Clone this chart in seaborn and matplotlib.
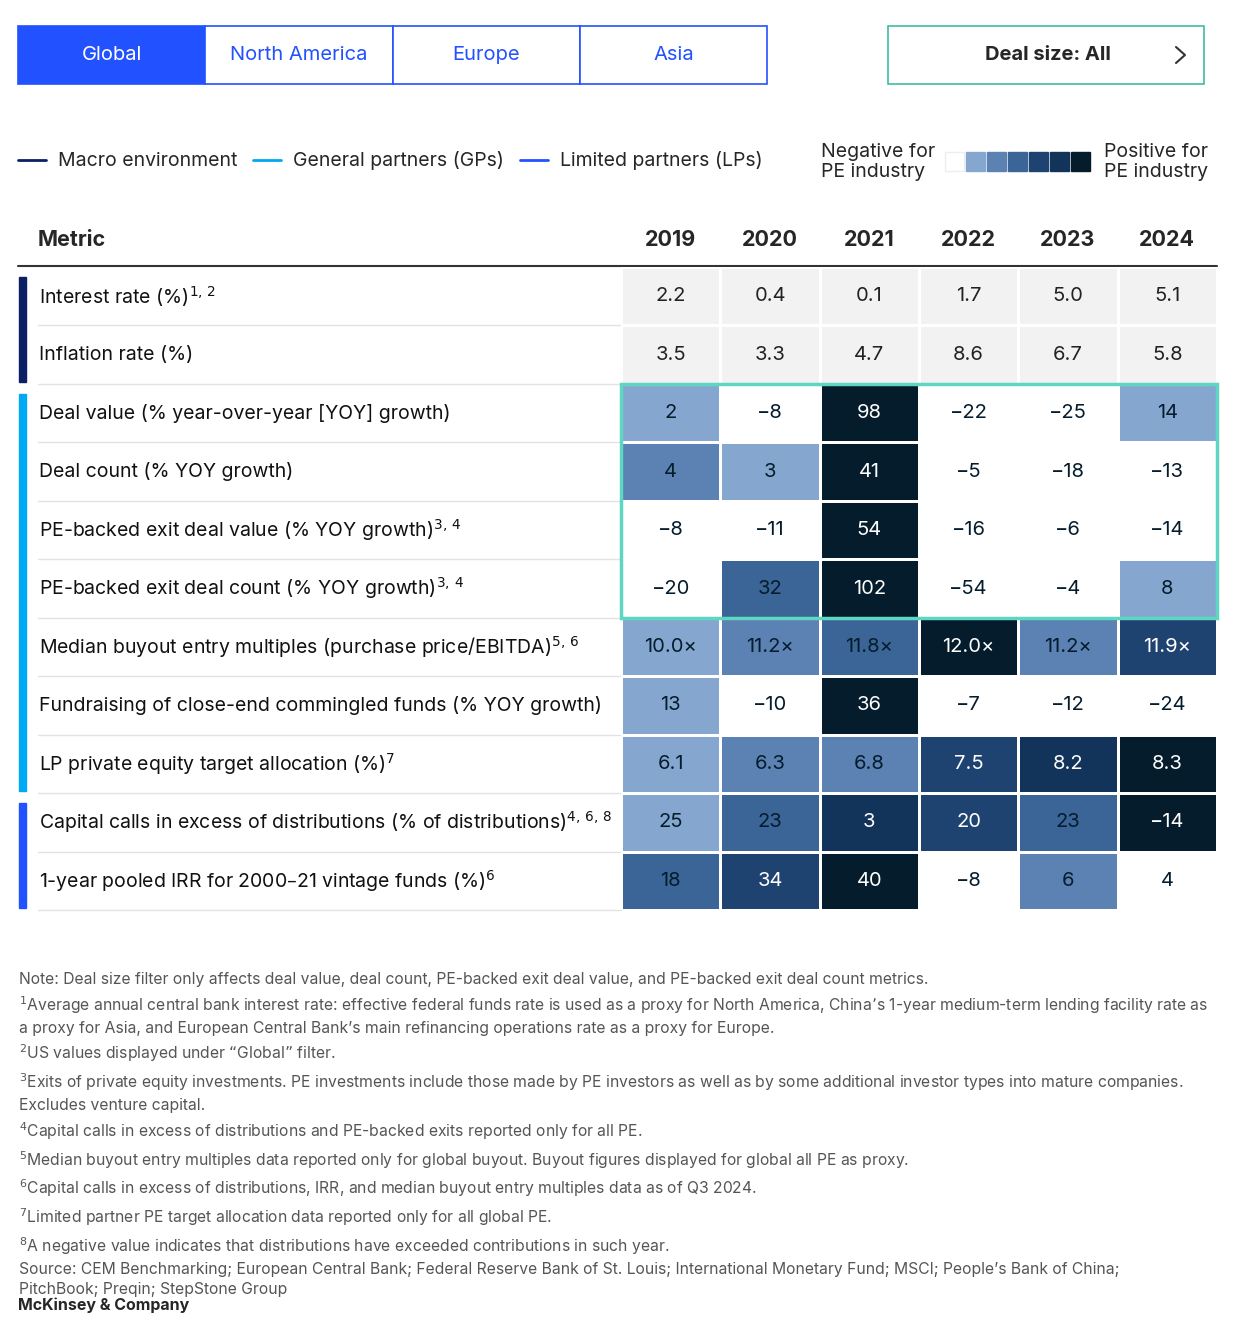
import numpy as np
import matplotlib.pyplot as plt
import seaborn as sns
from matplotlib.colors import ListedColormap
from matplotlib.patches import Rectangle

sns.set_theme(style="white")
plt.rcParams['font.family'] = ['Inter', 'DejaVu Sans']

years = ['2019', '2020', '2021', '2022', '2023', '2024']
metrics = ['Interest rate (%)$^{1,\\,2}$', 'Inflation rate (%)',
           'Deal value (% year-over-year [YOY] growth)', 'Deal count (% YOY growth)',
           'PE-backed exit deal value (% YOY growth)$^{3,\\,4}$',
           'PE-backed exit deal count (% YOY growth)$^{3,\\,4}$',
           'Median buyout entry multiples (purchase price/EBITDA)$^{5,\\,6}$',
           'Fundraising of close-end commingled funds (% YOY growth)',
           'LP private equity target allocation (%)$^{7}$',
           'Capital calls in excess of distributions (% of distributions)$^{4,\\,6,\\,8}$',
           '1-year pooled IRR for 2000\u201321 vintage funds (%)$^{6}$']
values = [['2.2', '0.4', '0.1', '1.7', '5.0', '5.1'],
          ['3.5', '3.3', '4.7', '8.6', '6.7', '5.8'],
          ['2', '\u22128', '98', '\u221222', '\u221225', '14'],
          ['4', '3', '41', '\u22125', '\u221218', '\u221213'],
          ['\u22128', '\u221211', '54', '\u221216', '\u22126', '\u221214'],
          ['\u221220', '32', '102', '\u221254', '\u22124', '8'],
          ['10.0\u00d7', '11.2\u00d7', '11.8\u00d7', '12.0\u00d7', '11.2\u00d7', '11.9\u00d7'],
          ['13', '\u221210', '36', '\u22127', '\u221212', '\u221224'],
          ['6.1', '6.3', '6.8', '7.5', '8.2', '8.3'],
          ['25', '23', '3', '20', '23', '\u221214'],
          ['18', '34', '40', '\u22128', '6', '4']]
# -1 = neutral gray, 0..6 = negative -> positive for PE industry
levels = [[-1, -1, -1, -1, -1, -1],
          [-1, -1, -1, -1, -1, -1],
          [1, 0, 6, 0, 0, 1],
          [2, 1, 6, 0, 0, 0],
          [0, 0, 6, 0, 0, 0],
          [0, 3, 6, 0, 0, 1],
          [1, 2, 3, 6, 2, 4],
          [1, 0, 6, 0, 0, 0],
          [1, 2, 2, 4, 5, 6],
          [1, 3, 5, 4, 3, 6],
          [3, 4, 6, 0, 2, 0]]
scale = ['#ffffff', '#85a7cf', '#5b82b2', '#3a6596', '#1f4370', '#12335a', '#051c2c']
groups = [('Macro environment', '#0b1f65', 0, 2), ('General partners (GPs)', '#00a9f4', 2, 9),
          ('Limited partners (LPs)', '#2251ff', 9, 11)]

W, H = 1242, 1318
fig = plt.figure(figsize=(W / 100, H / 100), dpi=100)
bg = fig.add_axes([0, 0, 1, 1])
bg.set_xlim(0, W); bg.set_ylim(H, 0); bg.axis('off')

# heatmap
x0, x1, y0, y1 = 621, 1217, 267, 910
ax = fig.add_axes([x0 / W, 1 - y1 / H, (x1 - x0) / W, (y1 - y0) / H])
lv = np.array(levels)
cmap = ListedColormap(['#f2f2f2'] + scale)
sns.heatmap(lv, ax=ax, cmap=cmap, vmin=-1.5, vmax=6.5, cbar=False,
            annot=np.array(values), fmt='', linewidths=2, linecolor='white',
            annot_kws={'fontsize': 14.5})
ax.set_xticks([]); ax.set_yticks([])
for t, l in zip(ax.texts, lv.flatten()):
    t.set_color('white' if l >= 4 else ('#051c2c' if l >= 0 else '#222222'))
ax.add_patch(Rectangle((0, 2), 6, 4, fill=False, ec='#5fd6c2', lw=2.5, clip_on=False))

rh = (y1 - y0) / len(metrics)
cw = (x1 - x0) / len(years)
bg.text(38, 240, 'Metric', fontsize=15.5, fontweight='bold', va='center')
for i, y in enumerate(years):
    bg.text(x0 + cw * (i + 0.5), 240, y, fontsize=15.5, fontweight='bold', ha='center', va='center')
bg.plot([18, 1217], [266, 266], color='#333333', lw=1.5)
for i, m in enumerate(metrics):
    bg.text(39, y0 + rh * (i + 0.5), m, fontsize=14, va='center', color='#111111')
    bg.plot([38, x0], [y0 + rh * (i + 1)] * 2, color='#e3e3e3', lw=1)
for name, c, a, b in groups:
    bg.add_patch(Rectangle((19, y0 + rh * a + 10), 7, rh * (b - a) - 12, color=c))

# legend
lx = [18, 253, 520]
for (name, c, a, b), x in zip(groups, lx):
    bg.plot([x, x + 28], [160, 160], color=c, lw=2)
    bg.text(x + 40, 161, name, fontsize=14, va='center')
bg.text(821, 162, 'Negative for\nPE industry', fontsize=14, va='center', linespacing=1.2)
bg.text(1104, 162, 'Positive for\nPE industry', fontsize=14, va='center', linespacing=1.2)
for i, c in enumerate(scale):
    bg.add_patch(Rectangle((945 + i * 21, 152), 19, 19, fc=c, ec='#eeeeee' if i == 0 else c, lw=1))

# tabs
tabs = ['Global', 'North America', 'Europe', 'Asia']
for i, t in enumerate(tabs):
    xa = 18 + i * 187.25
    bg.add_patch(Rectangle((xa, 26), 187.25, 58, fc='#2251ff' if i == 0 else 'white', ec='#2251ff', lw=1.2))
    bg.text(xa + 93.6, 55, t, fontsize=14.5, ha='center', va='center',
            color='white' if i == 0 else '#2251ff')
bg.add_patch(Rectangle((888, 26), 316, 58, fc='white', ec='#3dbea0', lw=1.2))
bg.text(1048, 55, 'Deal size: All', fontsize=14.5, fontweight='bold', ha='center', va='center')
bg.plot([1176, 1185, 1176], [47, 55, 63], color='#333333', lw=1.5)

notes = ("Note: Deal size filter only affects deal value, deal count, PE-backed exit deal value, and PE-backed exit deal count metrics.\n"
         "$^{1}$Average annual central bank interest rate: effective federal funds rate is used as a proxy for North America, China\u2019s 1-year medium-term lending facility rate as\n"
         "a proxy for Asia, and European Central Bank\u2019s main refinancing operations rate as a proxy for Europe.\n"
         "$^{2}$US values displayed under \u201cGlobal\u201d filter.\n"
         "$^{3}$Exits of private equity investments. PE investments include those made by PE investors as well as by some additional investor types into mature companies.\n"
         "Excludes venture capital.\n"
         "$^{4}$Capital calls in excess of distributions and PE-backed exits reported only for all PE.\n"
         "$^{5}$Median buyout entry multiples data reported only for global buyout. Buyout figures displayed for global all PE as proxy.\n"
         "$^{6}$Capital calls in excess of distributions, IRR, and median buyout entry multiples data as of Q3 2024.\n"
         "$^{7}$Limited partner PE target allocation data reported only for all global PE.\n"
         "$^{8}$A negative value indicates that distributions have exceeded contributions in such year.\n"
         "Source: CEM Benchmarking; European Central Bank; Federal Reserve Bank of St. Louis; International Monetary Fund; MSCI; People\u2019s Bank of China;\n"
         "PitchBook; Preqin; StepStone Group")
bg.text(19, 972, notes, fontsize=11.3, va='top', color='#555555', linespacing=1.42)
bg.text(18, 1305, 'McKinsey & Company', fontsize=11.5, fontweight='bold', va='center')

fig.savefig('out.png', dpi=100)
